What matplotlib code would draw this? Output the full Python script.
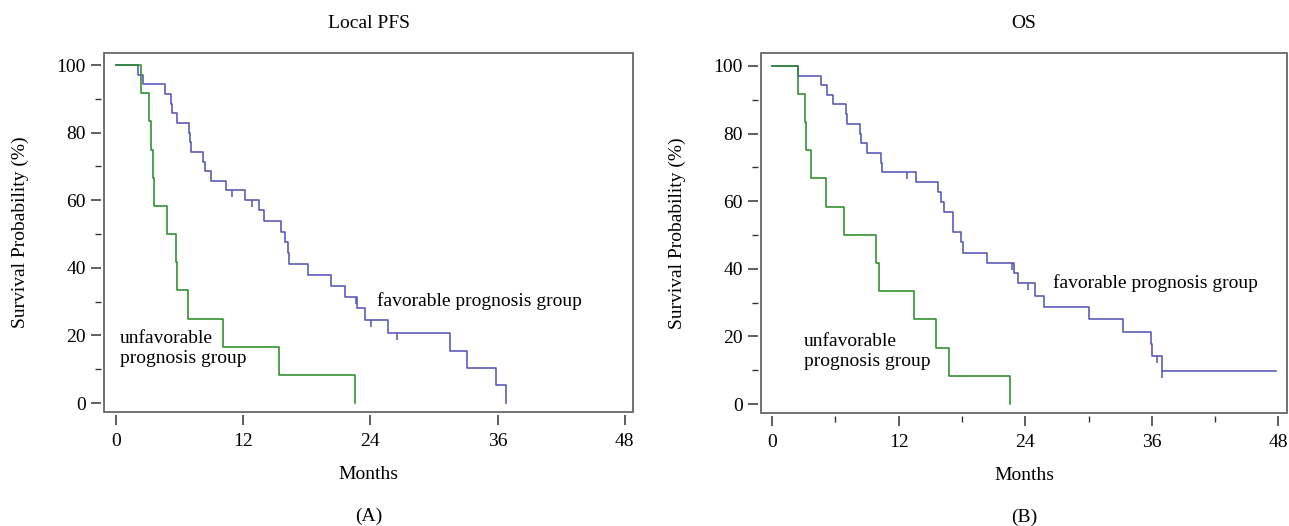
import numpy as np
import matplotlib
matplotlib.use("Agg")
import matplotlib.pyplot as plt
from matplotlib.patches import Rectangle
from matplotlib.ticker import MultipleLocator

plt.rcParams['font.family'] = ['Liberation Serif', 'DejaVu Serif']
plt.rcParams['font.size'] = 14

BLUE = '#5555b5'
GREEN = '#2a8c2a'

# Local PFS (A)
pfs_fav_t = [0, 2.1, 2.5, 4.6, 5.15, 5.25, 5.8, 6.9, 7.0, 7.1, 8.2, 8.35, 9.0, 10.4,
             12.2, 13.5, 14.0, 15.6, 15.9, 16.2, 16.3, 18.1, 20.3, 21.6, 22.7, 23.5,
             25.7, 31.5, 33.1, 35.8, 36.8]
pfs_fav_s = [100, 97.1, 94.3, 91.4, 88.6, 85.7, 82.9, 80.0, 77.1, 74.3, 71.4, 68.6, 65.7, 62.9,
             60.0, 57.0, 54.0, 50.6, 47.5, 44.3, 41.0, 37.9, 34.7, 31.5, 28.1, 24.6,
             20.6, 15.5, 10.3, 5.2, 0]
pfs_fav_cens_t = [10.9, 12.8, 22.6, 24.1, 26.5]
pfs_fav_cens_s = [62.9, 60.0, 31.5, 24.6, 20.6]

pfs_unf_t = [0, 2.4, 3.1, 3.3, 3.5, 3.6, 4.8, 5.7, 5.8, 6.8, 10.1, 15.4, 22.5]
pfs_unf_s = [100, 91.7, 83.3, 75.0, 66.7, 58.3, 50.0, 41.7, 33.3, 25.0, 16.7, 8.3, 0]

# OS (B)
os_fav_t = [0, 2.5, 4.6, 5.25, 5.8, 7.0, 7.1, 8.3, 8.4, 9.0, 10.3, 10.4, 13.6, 15.7,
            16.0, 16.3, 17.2, 17.9, 18.1, 20.4, 22.9, 23.35, 24.9, 25.8, 30.0, 33.3,
            35.9, 36.0, 37.0, 47.8]
os_fav_s = [100, 97.1, 94.3, 91.4, 88.6, 85.7, 82.9, 80.0, 77.1, 74.3, 71.4, 68.6, 65.7, 62.7,
            59.7, 56.7, 50.8, 47.8, 44.8, 41.8, 38.8, 35.7, 32.0, 28.6, 25.1, 21.4,
            17.8, 14.3, 9.7, 9.7]
os_fav_cens_t = [12.8, 22.7, 24.3, 36.5, 37.0]
os_fav_cens_s = [68.6, 41.8, 35.7, 14.3, 9.7]

os_unf_t = [0, 2.5, 3.1, 3.2, 3.7, 5.1, 6.8, 9.9, 10.1, 13.5, 15.5, 16.8, 22.6]
os_unf_s = [100, 91.7, 83.3, 75.0, 66.7, 58.3, 50.0, 41.7, 33.3, 25.0, 16.7, 8.3, 0]

x_ticks = [0, 12, 24, 36, 48]
y_ticks = [0, 20, 40, 60, 80, 100]


def style_axes(ax, xlim, ylim, x_minor):
    ax.set_xlim(*xlim)
    ax.set_ylim(*ylim)
    for side in ['top', 'right']:
        ax.spines[side].set_visible(False)
    for side in ['left', 'bottom']:
        ax.spines[side].set_position(('outward', 2.5))
        ax.spines[side].set_color('none')
    # box drawn separately so the ticks sit a little away from it
    ax.add_patch(Rectangle((0, 0), 1, 1, transform=ax.transAxes, fill=False,
                           edgecolor='#5a5a5a', lw=1.2, clip_on=False, zorder=5))
    ax.set_xticks(x_ticks)
    ax.set_yticks(y_ticks)
    ax.yaxis.set_minor_locator(MultipleLocator(10))
    if x_minor:
        ax.xaxis.set_minor_locator(MultipleLocator(6))
    ax.tick_params(which='major', length=7.5, width=1.1, color='#333333')
    ax.tick_params(axis='x', which='major', pad=5)
    ax.tick_params(axis='y', which='major', pad=3)
    ax.tick_params(which='minor', length=4.5, width=1.0, color='#333333')


fig = plt.figure(figsize=(12.89, 5.26), dpi=100)
axA = fig.add_axes([0.0807, 0.2167, 0.4104, 0.6825])
axB = fig.add_axes([0.5904, 0.2148, 0.4080, 0.6844])

panels = [
    (axA, pfs_fav_t, pfs_fav_s, pfs_fav_cens_t, pfs_fav_cens_s, pfs_unf_t, pfs_unf_s,
     'Local PFS', '(A)', (-1.13, 48.77), (-2.66, 103.55), False,
     (24.6, 30.2), (0.4, 16.1)),
    (axB, os_fav_t, os_fav_s, os_fav_cens_t, os_fav_cens_s, os_unf_t, os_unf_s,
     'OS', '(B)', (-1.04, 48.8), (-2.66, 103.8), True,
     (26.6, 35.7), (3.0, 15.5)),
]

for (ax, ft, fs, ct, cs, ut, us, title, tag, xlim, ylim, xminor, fav_pos, unf_pos) in panels:
    style_axes(ax, xlim, ylim, xminor)
    ax.step(ft, fs, where='post', color=BLUE, lw=1.15)
    ax.plot(ct, cs, linestyle='none', marker=3, markersize=5, color=BLUE, mew=1.1)
    ax.step(ut, us, where='post', color=GREEN, lw=1.15)
    ax.text(fav_pos[0], fav_pos[1], 'favorable prognosis group', ha='left', va='center')
    ax.text(unf_pos[0], unf_pos[1], 'unfavorable\nprognosis group', ha='left', va='center')
    ax.text(0.5, 1.083, title, transform=ax.transAxes, ha='center', va='center')
    ax.text(0.5, -0.29, tag, transform=ax.transAxes, ha='center', va='center')
    ax.text(0.5, -0.173, 'Months', transform=ax.transAxes, ha='center', va='center')
    ax.text(-0.159, 0.5, 'Survival Probability (%)', transform=ax.transAxes,
            rotation=90, ha='center', va='center')

fig.savefig('out.png', dpi=100)
